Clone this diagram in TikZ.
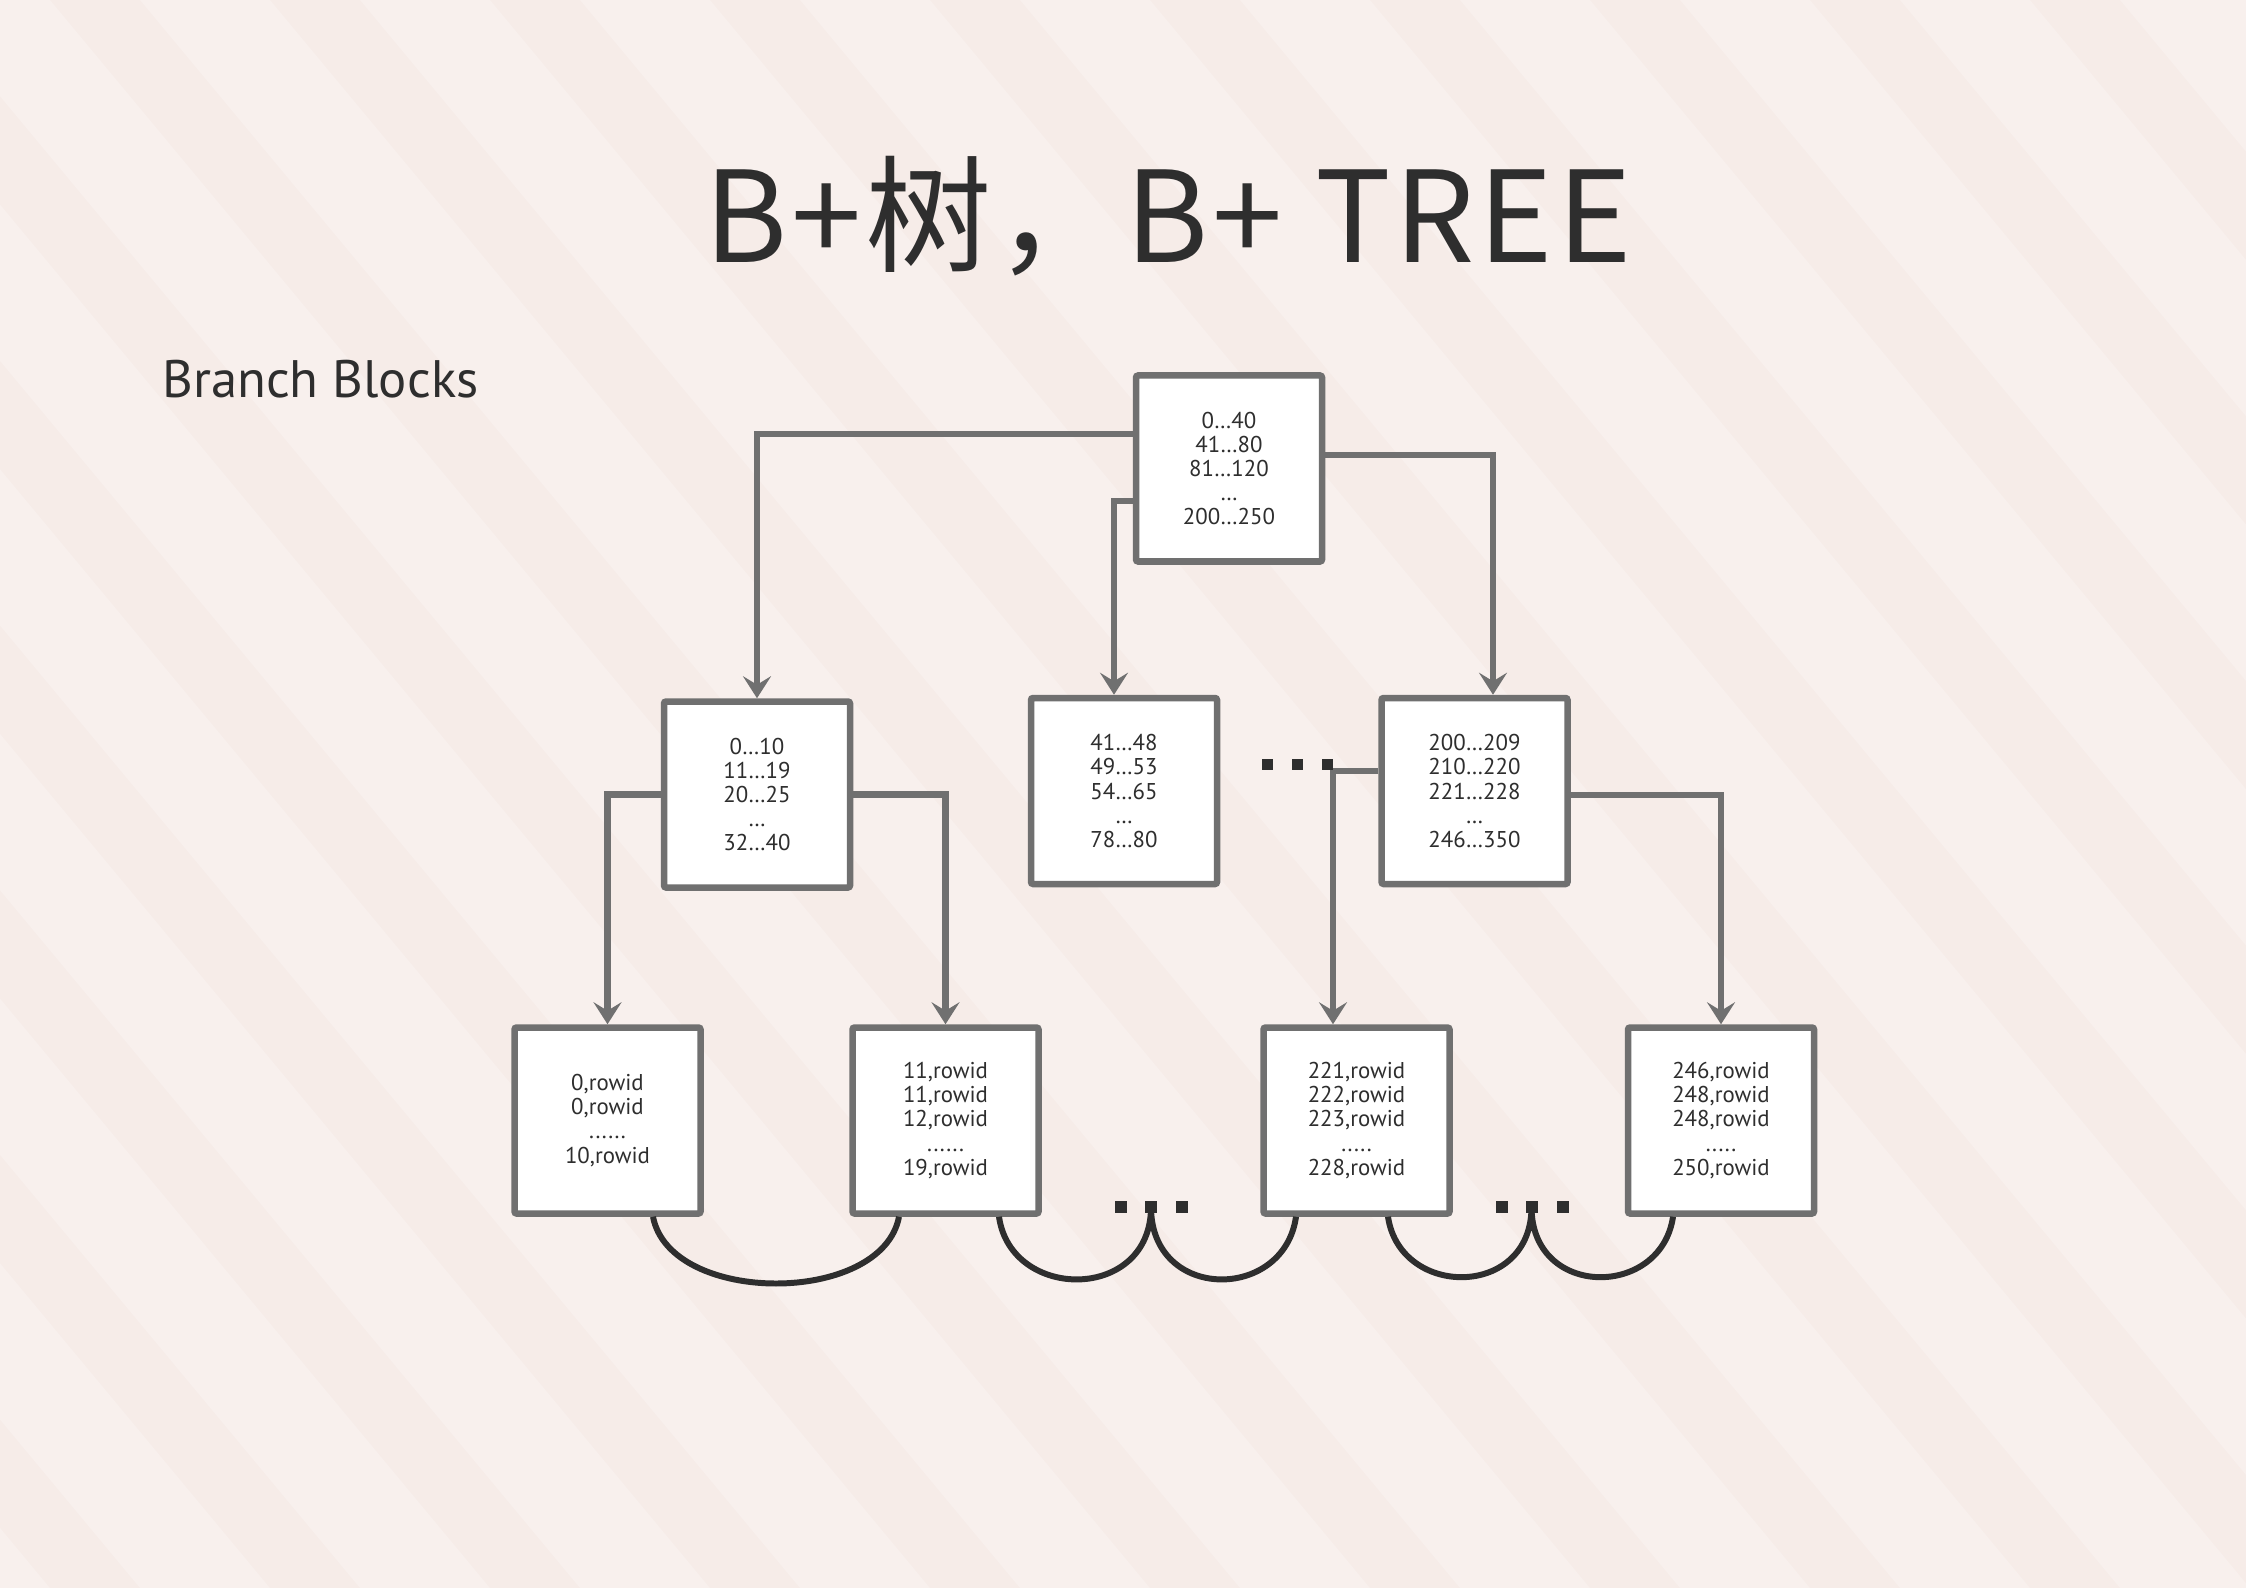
\documentclass[tikz,border=0pt]{standalone}
\usepackage{fontspec}
\setmainfont{PT Sans}
\newfontfamily\cjk[LetterSpace=3]{Noto Sans CJK SC}
\usetikzlibrary{arrows.meta}
\definecolor{bgpink}{RGB}{246,236,232}
\definecolor{bgstripe}{RGB}{248,240,237}
\definecolor{edgegray}{RGB}{112,112,112}
\definecolor{ink}{RGB}{46,46,46}

\begin{document}
\begin{tikzpicture}[
    box/.style={draw=edgegray, line width=1.85pt, fill=white, rounded corners=0.6pt,
      minimum width=1.86cm, minimum height=1.86cm, inner sep=0pt, align=center,
      text=ink, font=\fontsize{6.5}{6.85}\selectfont},
    link/.style={draw=edgegray, line width=1.75pt, -{Stealth[length=2.2mm, width=2.8mm, inset=0.85mm]}},
    chain/.style={draw=ink, line width=1.7pt},
    dot/.style={fill=ink}
  ]
  \useasboundingbox (0,0) rectangle (22.46,-15.88);
  \fill[bgpink] (0,0) rectangle (22.46,-15.88);
  \begin{scope}
    \clip (0,0) rectangle (22.46,-15.88);
    \foreach \x in {-14,-11.8,...,22.5}
      \fill[bgstripe] (\x,0) -- ++(1.3,0) -- ++(13.2,-15.88) -- ++(-1.3,0) -- cycle;
  \end{scope}

  \node[font=\cjk\fontsize{36}{40}\selectfont, text=ink, anchor=base] (title) at (11.68,-2.63) {B+树，B+ TREE};
  \node[font=\fontsize{15}{18}\selectfont, text=ink, anchor=base west] (label) at (1.5,-3.98) {Branch Blocks};

  \node[box] (root) at (12.29,-4.685) {0…40\\41…80\\81…120\\…\\200…250};

  \node[box] (br1) at (7.57,-7.945) {0…10\\11…19\\20…25\\…\\32…40};
  \node[box] (br2) at (11.24,-7.91) {41…48\\49…53\\54…65\\…\\78…80};
  \node[box] (br3) at (14.745,-7.91) {200…209\\210…220\\221…228\\…\\246…350};

  \node[box] (lf1) at (6.075,-11.205) {0,rowid\\0,rowid\\......\\10,rowid};
  \node[box] (lf2) at (9.455,-11.205) {11,rowid\\11,rowid\\12,rowid\\......\\19,rowid};
  \node[box] (lf3) at (13.565,-11.205) {221,rowid\\222,rowid\\223,rowid\\.....\\228,rowid};
  \node[box] (lf4) at (17.21,-11.205) {246,rowid\\248,rowid\\248,rowid\\.....\\250,rowid};

  \draw[link] ([yshift=3.45mm]root.west) -| (br1.north);
  \draw[link] ([yshift=-3.25mm]root.west) -| ([xshift=-1mm]br2.north);
  \draw[link] ([yshift=1.35mm]root.east) -| ([xshift=1.85mm]br3.north);

  \draw[link] (br1.west) -| (lf1.north);
  \draw[link] (br1.east) -| (lf2.north);
  \draw[link] ([yshift=2mm]br3.west) -| ([xshift=-2.35mm]lf3.north);
  \draw[link] ([yshift=-0.4mm]br3.east) -| (lf4.north);

  \foreach \x in {12.67,12.97,13.275}
    \fill[dot] (\x-0.055,-7.59) rectangle ++(0.11,-0.11);
  \foreach \x in {11.21,11.51,11.815,15.015,15.315,15.625}
    \fill[dot] (\x-0.06,-12.01) rectangle ++(0.12,-0.115);

  \coordinate (jA) at (11.51,-12.07);
  \coordinate (jB) at (15.315,-12.07);

  \draw[chain] ([xshift=4.55mm]lf1.south) .. controls +(0.17,-0.89) and +(-0.17,-0.89) .. ([xshift=-4.65mm]lf2.south);
  \draw[chain] ([xshift=5.35mm]lf2.south) .. controls +(0.12,-0.85) and +(0,-0.95) .. (jA)
    .. controls +(0,-0.95) and +(-0.12,-0.85) .. ([xshift=-6.05mm]lf3.south);
  \draw[chain] ([xshift=3.15mm]lf3.south) .. controls +(0.12,-0.82) and +(0,-0.92) .. (jB)
    .. controls +(0,-0.92) and +(-0.12,-0.82) .. ([xshift=-4.8mm]lf4.south);
\end{tikzpicture}
\end{document}
